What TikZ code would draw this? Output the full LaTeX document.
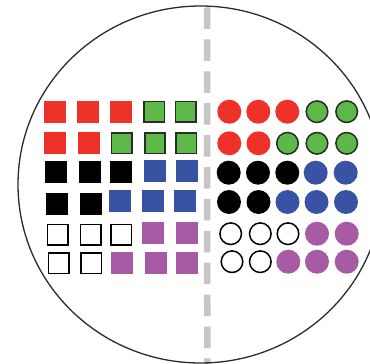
\documentclass[tikz,border=0pt]{standalone}
\definecolor{cred}{HTML}{EE3129}
\definecolor{cgreen}{HTML}{5CB947}
\definecolor{cblue}{HTML}{3953A4}
\definecolor{cpurple}{HTML}{A85BA5}
\definecolor{cedge}{HTML}{2B2B2B}
\definecolor{cdash}{HTML}{C6C6C6}
\tikzset{
  sqbase/.style={rectangle, inner sep=0pt, outer sep=0pt},
  sqfill/.style={sqbase, minimum size=22pt, draw=none},
  sqline/.style={sqbase, minimum size=20.4pt, line width=1.6pt},
  rsq/.style={sqfill, fill=cred},
  ksq/.style={sqfill, fill=black},
  bsq/.style={sqfill, fill=cblue},
  psq/.style={sqfill, fill=cpurple},
  gsq/.style={sqline, fill=cgreen, draw=cedge},
  wsq/.style={sqline, fill=white, draw=black},
  cbase/.style={circle, inner sep=0pt, outer sep=0pt},
  cfill/.style={cbase, minimum size=24pt, draw=none},
  cline/.style={cbase, minimum size=21.6pt, line width=1.5pt},
  rc/.style={cfill, fill=cred},
  kc/.style={cfill, fill=black},
  bc/.style={cfill, fill=cblue},
  pc/.style={cfill, fill=cpurple},
  gc/.style={cline, fill=cgreen, draw=cedge},
  wc/.style={cline, fill=white, draw=black},
  divider/.style={draw=cdash, line width=6.5pt, dash pattern=on 21.5pt off 10.4pt},
  rim/.style={draw=cedge, line width=1.3pt}
}
\begin{document}
\begin{tikzpicture}[x=1pt,y=-1pt]
\useasboundingbox (0,0) rectangle (370,364);
\fill[white] (0,0) rectangle (370,364);
% divider
\coordinate (dtop) at (207,7.5);
\coordinate (dbot) at (207.3,366);
\draw[divider] (dtop) -- (dbot);
% outline
\coordinate (ctr) at (200.5,184.5);
\draw[rim] (ctr) ellipse [x radius=182.5, y radius=178.5];
% squares
\foreach \x/\st [count=\i] in {54.7/rsq,88.3/rsq,121.2/rsq,154.2/gsq,185.8/gsq}
  \node[\st] (s1-\i) at (\x,111.7) {};
\foreach \x/\st [count=\i] in {55.3/rsq,88.8/rsq,121.5/gsq,155/gsq,186.2/gsq}
  \node[\st] (s2-\i) at (\x,143.3) {};
\foreach \x/\y/\st [count=\i] in {56.2/172.2/ksq,89.7/172.2/ksq,121.2/172.2/ksq,154.7/170.5/bsq,186.7/170.5/bsq}
  \node[\st] (s3-\i) at (\x,\y) {};
\foreach \x/\y/\st [count=\i] in {57.2/203.5/ksq,90.5/203.5/ksq,120/201/bsq,153.3/201/bsq,185/201/bsq}
  \node[\st] (s4-\i) at (\x,\y) {};
\foreach \x/\y/\st [count=\i] in {57.8/234.8/wsq,90.5/234.8/wsq,121.2/234.8/wsq,152.8/232.8/psq,186.7/232.8/psq}
  \node[\st] (s5-\i) at (\x,\y) {};
\foreach \x/\st [count=\i] in {58.8/wsq,91.2/wsq,121.7/psq,155.5/psq,186.7/psq}
  \node[\st] (s6-\i) at (\x,263.3) {};
% circles
\foreach \x/\st [count=\i] in {229.3/rc,258.3/rc,287.3/rc,317/gc,346.7/gc}
  \node[\st] (c1-\i) at (\x,111.7) {};
\foreach \x/\st [count=\i] in {229.3/rc,258.5/rc,287.5/gc,317/gc,346.7/gc}
  \node[\st] (c2-\i) at (\x,143.3) {};
\foreach \x/\st [count=\i] in {228.7/kc,258/kc,287.3/kc,315.7/bc,345.7/bc}
  \node[\st] (c3-\i) at (\x,172.7) {};
\foreach \x/\st [count=\i] in {229/kc,258.5/kc,287.5/bc,316.5/bc,346/bc}
  \node[\st] (c4-\i) at (\x,202) {};
\foreach \x/\st [count=\i] in {230.7/wc,260.3/wc,288/wc,317/pc,346.7/pc}
  \node[\st] (c5-\i) at (\x,233.7) {};
\foreach \x/\st [count=\i] in {232/wc,260.3/wc,288.3/pc,317/pc,346.7/pc}
  \node[\st] (c6-\i) at (\x,261.7) {};
\end{tikzpicture}
\end{document}
